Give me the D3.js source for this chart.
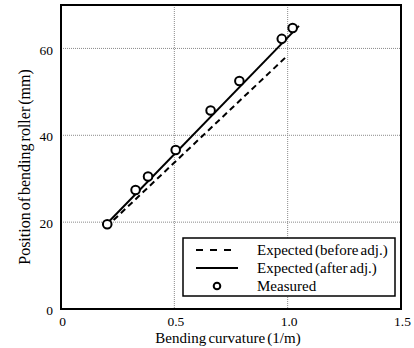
<!DOCTYPE html>
<html>
<head>
<meta charset="utf-8">
<script src="https://cdn.jsdelivr.net/npm/d3@7/dist/d3.min.js"></script>
<style>
  html, body { margin: 0; padding: 0; background: #fff; }
  svg { display: block; }
  text { font-family: "Liberation Serif", "Times New Roman", serif; fill: #000; }
</style>
</head>
<body>
<svg id="chart" width="414" height="348"></svg>
<script>
// Measured roller positions against bending curvature
const measuredCurvature = [0.204, 0.329, 0.384, 0.506, 0.660, 0.787, 0.974, 1.022];
const measuredPosition  = [19.5, 27.4, 30.5, 36.6, 45.7, 52.5, 62.2, 64.7];

// Expected relations (straight lines, end points)
const beforeCurvature = [0.20, 1.00];
const beforePosition  = [18.9, 58.4];
const afterCurvature  = [0.20, 1.05];
const afterPosition   = [19.5, 65.2];

// Axis ticks
const xTicks = [0, 0.5, 1.0, 1.5];
const xTickLabels = ["0", "0.5", "1.0", "1.5"];
const yTicks = [0, 20, 40, 60];
const yTickLabels = ["0", "20", "40", "60"];

const legendLabels = ["Expected (before adj.)", "Expected (after adj.)", "Measured"];

const svg = d3.select("#chart");
const plot = { left: 61, right: 401, top: 5, bottom: 309 };

const x = d3.scaleLinear().domain([0, 1.5]).range([plot.left, plot.right]);
const y = d3.scaleLinear().domain([0, 70]).range([plot.bottom, plot.top]);

// Dotted grid
const grid = svg.append("g");
grid.selectAll("line.gx").data([0.5, 1.0]).join("line")
  .attr("x1", d => x(d)).attr("x2", d => x(d))
  .attr("y1", plot.top).attr("y2", plot.bottom)
  .attr("stroke", "#8a8a8a").attr("stroke-width", 1).attr("stroke-dasharray", "1,1");
grid.selectAll("line.gy").data([20, 40, 60]).join("line")
  .attr("x1", plot.left).attr("x2", plot.right)
  .attr("y1", d => y(d)).attr("y2", d => y(d))
  .attr("stroke", "#8a8a8a").attr("stroke-width", 1).attr("stroke-dasharray", "1,1");

// Axes (labels only, no tick marks)
const xAxis = d3.axisBottom(x).tickValues(xTicks).tickSize(0).tickPadding(0)
  .tickFormat((d, i) => xTickLabels[i]);
const gx = svg.append("g").attr("transform", `translate(0,${plot.bottom})`).call(xAxis);
gx.select(".domain").remove();
gx.selectAll("text").attr("font-size", 13.5).attr("dy", "0").attr("y", 17)
  .attr("dx", 1)
  .style("font-family", "'Liberation Serif', serif").attr("fill", "#000");

const yAxis = d3.axisLeft(y).tickValues(yTicks).tickSize(0).tickPadding(8)
  .tickFormat((d, i) => yTickLabels[i]);
const gy = svg.append("g").attr("transform", `translate(${plot.left},0)`).call(yAxis);
gy.select(".domain").remove();
gy.selectAll("text").attr("font-size", 13.5).attr("dy", "0.42em")
  .style("font-family", "'Liberation Serif', serif").attr("fill", "#000");

// Lines
const line = d3.line().x(d => x(d[0])).y(d => y(d[1]));
svg.append("path")
  .datum(d3.zip(beforeCurvature, beforePosition))
  .attr("d", line).attr("fill", "none").attr("stroke", "#000")
  .attr("stroke-width", 2).attr("stroke-dasharray", "6,4");
svg.append("path")
  .datum(d3.zip(afterCurvature, afterPosition))
  .attr("d", line).attr("fill", "none").attr("stroke", "#000")
  .attr("stroke-width", 2);

// Measured points
svg.append("g").selectAll("circle")
  .data(d3.zip(measuredCurvature, measuredPosition)).join("circle")
  .attr("cx", d => x(d[0])).attr("cy", d => y(d[1])).attr("r", 4.3)
  .attr("fill", "#fff").attr("stroke", "#000").attr("stroke-width", 2);

// Frame
svg.append("rect")
  .attr("x", plot.left).attr("y", plot.top)
  .attr("width", plot.right - plot.left).attr("height", plot.bottom - plot.top)
  .attr("fill", "none").attr("stroke", "#000").attr("stroke-width", 2);

// Legend
const lg = svg.append("g");
lg.append("rect").attr("x", 183).attr("y", 238).attr("width", 212).attr("height", 58)
  .attr("fill", "#fff").attr("stroke", "#000").attr("stroke-width", 1.5);
const rowY = [250, 268, 286];
lg.append("line").attr("x1", 196).attr("x2", 238).attr("y1", rowY[0]).attr("y2", rowY[0])
  .attr("stroke", "#000").attr("stroke-width", 2).attr("stroke-dasharray", "7,7");
lg.append("line").attr("x1", 196).attr("x2", 238).attr("y1", rowY[1]).attr("y2", rowY[1])
  .attr("stroke", "#000").attr("stroke-width", 2);
lg.append("circle").attr("cx", 217).attr("cy", rowY[2]).attr("r", 3.3)
  .attr("fill", "#fff").attr("stroke", "#000").attr("stroke-width", 2);
lg.selectAll("text").data(legendLabels).join("text")
  .attr("x", 257).attr("y", (d, i) => rowY[i]).attr("dy", "0.35em")
  .attr("font-size", 15).attr("word-spacing", -1.5).text(d => d);

// Axis titles
svg.append("text").attr("x", 228).attr("y", 343).attr("text-anchor", "middle")
  .attr("font-size", 15).attr("word-spacing", -1.5).text("Bending curvature (1/m)");
svg.append("text").attr("transform", "translate(30,167) rotate(-90)")
  .attr("text-anchor", "middle").attr("font-size", 16).attr("word-spacing", -2)
  .text("Position of bending roller (mm)");
</script>
</body>
</html>
